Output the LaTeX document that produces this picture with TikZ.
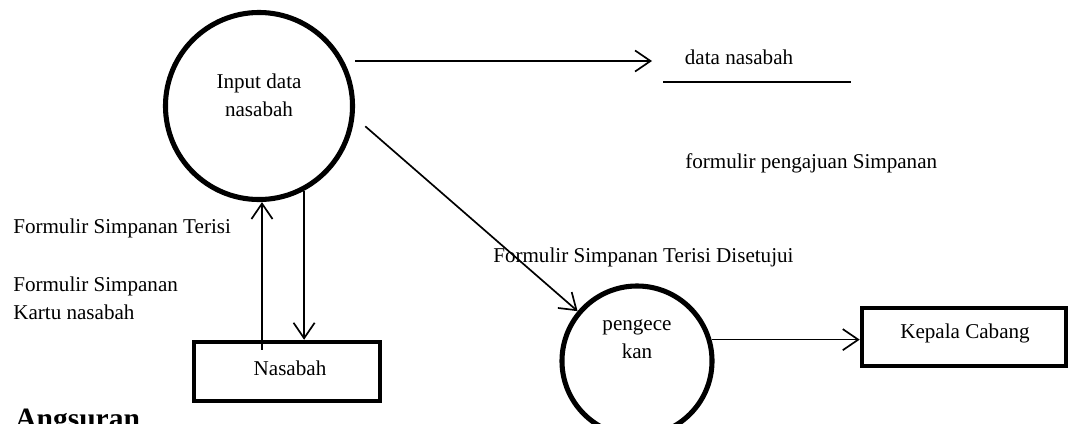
\documentclass[tikz,border=0pt]{standalone}
\usepackage{fontspec}
\setmainfont{Liberation Serif}
\usetikzlibrary{arrows.meta}

\tikzset{
	proc/.style={draw, circle, line width=3.6pt, inner sep=0pt},
	entity/.style={draw, rectangle, line width=3.2pt, inner sep=0pt},
	txt/.style={inner sep=0pt, font=\fontsize{15}{20}\selectfont},
	flow/.style={line width=1.2pt, -{Straight Barb[length=11pt,width=15pt,line width=1.2pt]}}
}

\begin{document}
\begin{tikzpicture}[x=0.025cm, y=-0.025cm]
	\useasboundingbox (0, 0) rectangle (1078, 423);
	\clip (0, 0) rectangle (1078, 423);
	% processes and entities
	\node [proc, minimum size=4.675cm] (input) at (259, 106) {};
	\node [txt, align=center] (inputlbl) at (259, 95) {Input data\\nasabah};
	\node [proc, minimum size=3.75cm] (cek) at (637, 361) {};
	\node [txt, align=center] (ceklbl) at (637, 339) {pengece\\kan};
	\node [entity, minimum width=4.65cm, minimum height=1.475cm] (nas) at (287, 371.5) {};
	\node [txt] (naslbl) at (290, 368) {Nasabah};
	\node [entity, minimum width=5.1cm, minimum height=1.45cm] (kepala) at (964, 337) {};
	\node [txt] (kepalalbl) at (965, 333) {Kepala Cabang};
	% data store
	\coordinate (dsl) at (663, 82);
	\coordinate (dsr) at (851, 82);
	\draw [line width=1.2pt] (dsl) -- (dsr);
	\node [txt] (ds) at (739, 57) {data nasabah};
	\coordinate (dn) at (652, 61);
	% flows
	\draw [flow] (input.east |- dn) -- (dn);
	\draw [flow] ([xshift=0.3cm, yshift=-0.05cm]input.-11) -- (cek.140);
	\draw [flow] ([xshift=-0.625cm, yshift=-0.25cm]nas.north) -- ([xshift=0.075cm]input.south);
	\draw [flow] (input.-62) -- (input.-62 |- nas.north);
	\draw [flow] (cek.16) -- (kepala.west |- cek.16);
	% flow labels
	\node [txt, anchor=west] (f1) at (685, 163) {formulir pengajuan Simpanan};
	\node [txt, anchor=west] (f2) at (493, 257) {Formulir Simpanan Terisi Disetujui};
	\node [txt, anchor=west] (f3) at (13, 228) {Formulir Simpanan Terisi};
	\node [txt, anchor=west, align=left] (f4) at (13, 298.5) {Formulir Simpanan\\Kartu nasabah};
	\node [anchor=base west, inner sep=0pt, font=\fontsize{21}{25}\selectfont\bfseries] (title) at (15, 428) {Angsuran};
\end{tikzpicture}
\end{document}
